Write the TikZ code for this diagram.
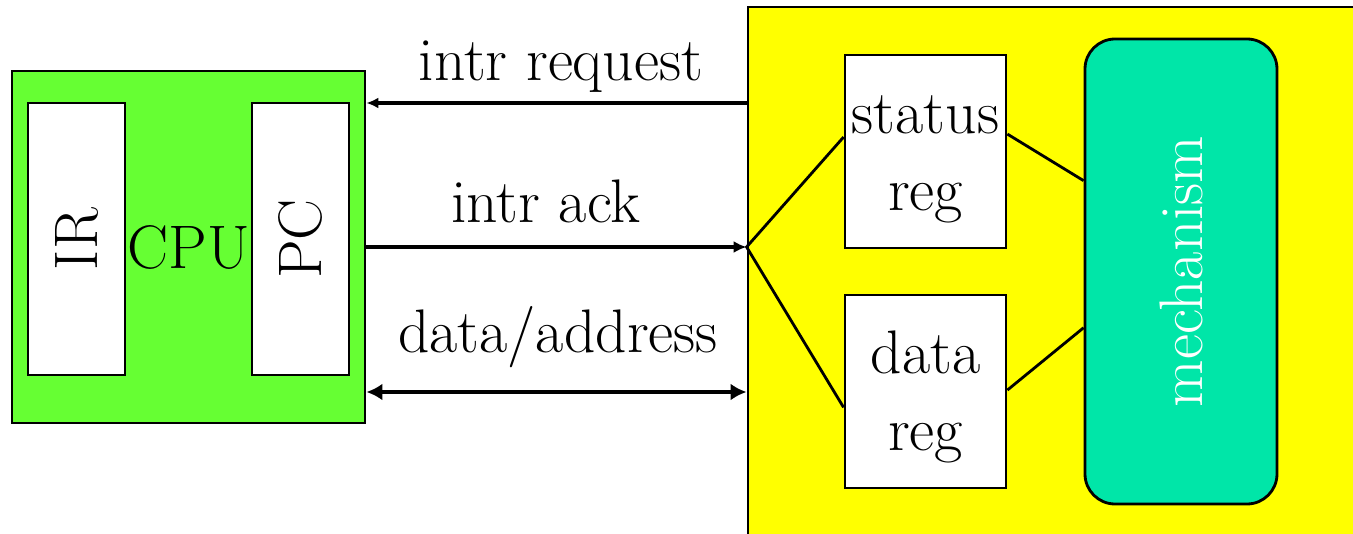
\documentclass[tikz,border=0pt]{standalone}
\usetikzlibrary{arrows.meta}
\definecolor{cpugreen}{RGB}{102,255,51}
\definecolor{devyellow}{RGB}{255,255,0}
\definecolor{mechgreen}{RGB}{0,230,168}

\begin{document}
\begin{tikzpicture}[every node/.style={font=\rmfamily\fontsize{17.5}{22}\selectfont, inner sep=0pt},
  box/.style={draw, line width=0.8pt, fill=white},
  bus/.style={line width=1.4pt},
  wire/.style={line width=0.8pt}]

  % Blöcke, Register und Leitungen
  \useasboundingbox (0,0) rectangle (13.53,-5.34);
  \clip (0,0) rectangle (13.53,-5.34);
  \coordinate (xcpu) at (1.885, -2.47);
  \coordinate (xir) at (0.765, -2.39);
  \coordinate (xpc) at (3.005, -2.39);
  \coordinate (xdev) at (10.68, -2.87);
  \coordinate (xstat) at (9.255, -1.515);
  \coordinate (xdreg) at (9.255, -3.915);
  \coordinate (xmech) at (11.81, -2.715);
  \coordinate (req) at (0, -1.03);
  \coordinate (ack) at (0, -2.47);
  \coordinate (dat) at (0, -3.92);
  \node[box, fill=cpugreen, minimum width=3.53cm, minimum height=3.52cm] (cpu) at (xcpu) {CPU};
  \node[box, minimum width=0.97cm, minimum height=2.72cm] (ir) at (xir) {\rotatebox{90}{IR}};
  \node[box, minimum width=0.97cm, minimum height=2.72cm] (pc) at (xpc) {\rotatebox{90}{PC}};
  \node[box, fill=devyellow, minimum width=6.4cm, minimum height=5.6cm] (dev) at (xdev) {};
  \node[box, align=center, minimum width=1.61cm, minimum height=1.93cm] (stat) at (xstat) {\strut status\\reg};
  \node[box, align=center, minimum width=1.61cm, minimum height=1.93cm] (dreg) at (xdreg) {\strut data\\reg};
  \node[box, fill=mechgreen, rounded corners=0.3cm, text=white, minimum width=1.92cm, minimum height=4.65cm] (mech) at (xmech) {\rotatebox{90}{mechanism}};
  \node[anchor=base] (lreq) at (5.61, -0.80) {intr request};
  \node[anchor=base] (lack) at (5.46, -2.23) {intr ack};
  \node[anchor=base] (ldat) at (5.58, -3.52) {data/address};
  \coordinate (hub) at (dev.west |- ack);
  \draw[bus, {Latex[length=1.2mm,width=1.1mm]}-] (cpu.east |- req) -- (dev.west |- req);
  \draw[bus, -{Latex[length=1.3mm,width=1.2mm]}] (cpu.east |- ack) -- (hub);
  \draw[bus, {Latex[length=1.6mm,width=1.7mm]}-{Latex[length=1.6mm,width=1.7mm]}] (cpu.east |- dat) -- (dev.west |- dat);
  \draw[wire] (stat.170) -- (hub) -- (dreg.191);
  \draw[wire] (stat.12) -- (mech.137);
  \draw[wire] (dreg.1) -- (mech.210);

\end{tikzpicture}
\end{document}
